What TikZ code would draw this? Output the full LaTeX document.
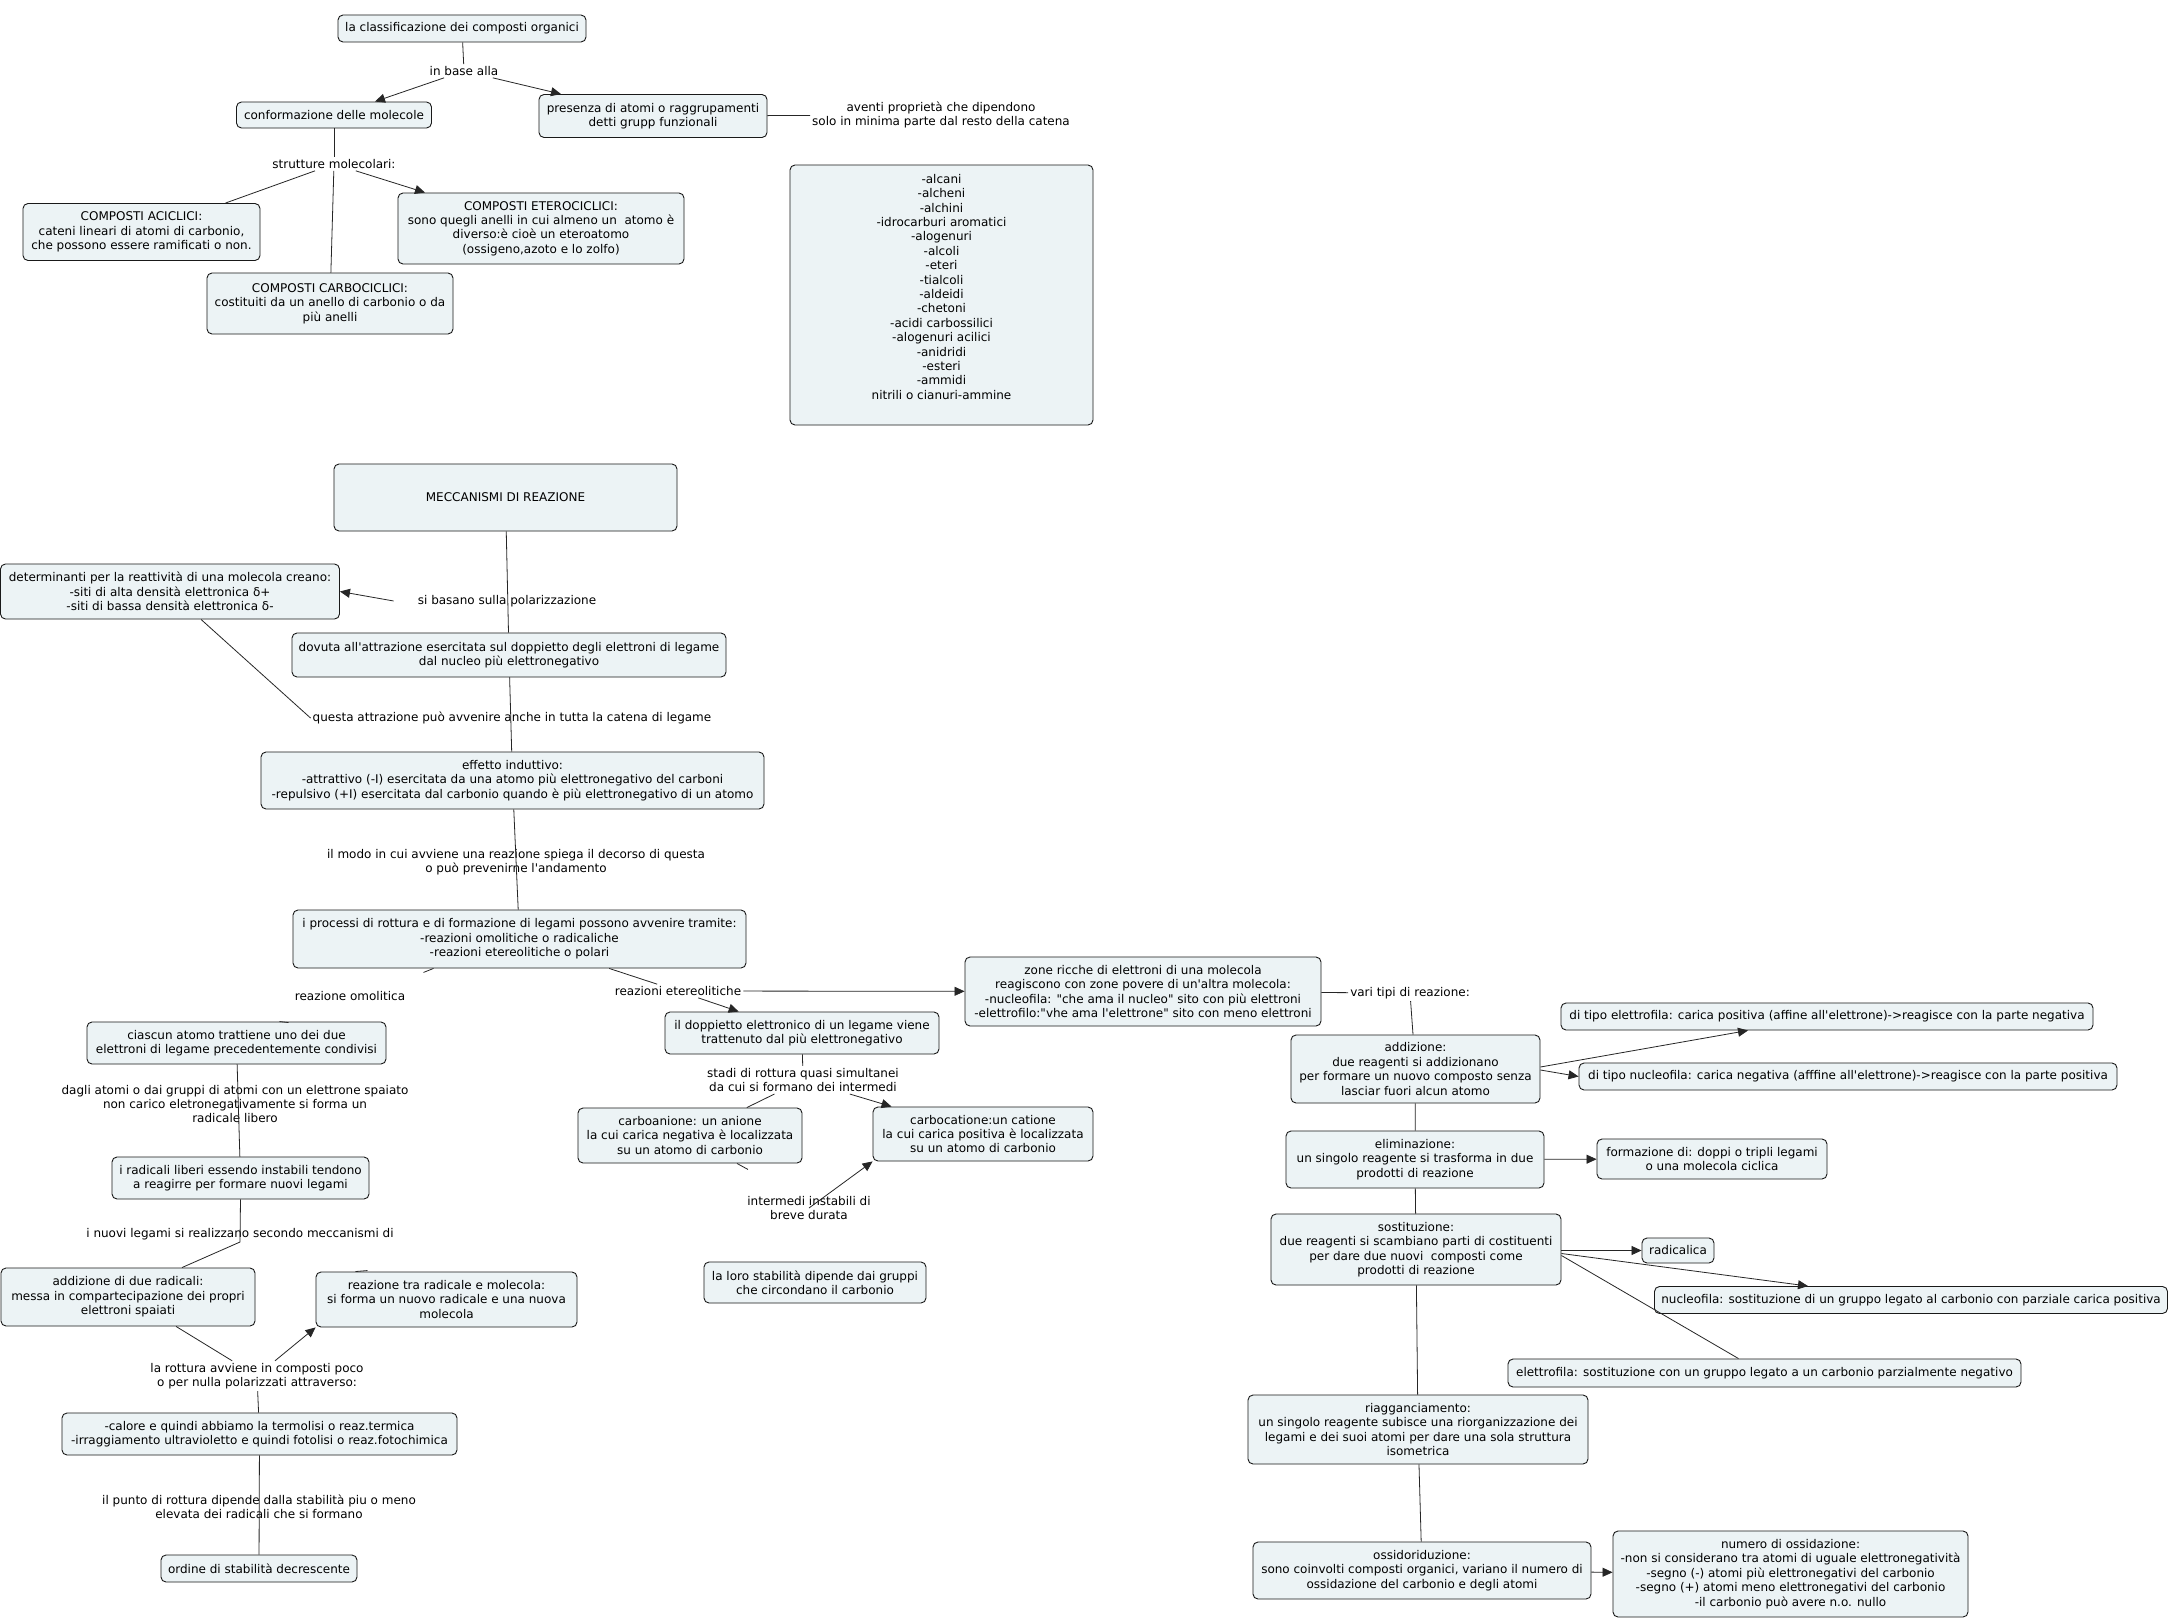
\documentclass[tikz,border=0pt]{standalone}
\usepackage{fontspec}
\setmainfont{DejaVu Sans}[Ligatures=TeXOff]
\usetikzlibrary{arrows.meta}
\definecolor{cfill}{HTML}{ECF3F5}
\newcommand{\cmtxt}{\fontsize{12}{14.4}\selectfont}
\tikzset{
  >={Triangle[length=10pt,width=9pt]},
  cbox/.style={rounded corners=5pt, draw=black!90, fill=cfill, line width=0.9pt,
               align=center, inner sep=2pt, font=\cmtxt},
  clink/.style={align=center, inner sep=2pt, font=\cmtxt},
  cline/.style={black!85, line width=0.8pt},
  carrow/.style={cline, ->},
}

\begin{document}
\begin{tikzpicture}[x=1pt, y=-1pt]

  \fill[white] (0,0) rectangle (2172,1619);
  \useasboundingbox (0,0) rectangle (2172,1619);

  % classificazione
  \node[cbox, minimum width=248pt, minimum height=27pt] (n1) at (462,28.5) {la classificazione dei composti organici};
  \node[clink] (lb1) at (464,71) {in base alla};
  \node[cbox, minimum width=195pt, minimum height=26pt] (n2) at (334,115) {conformazione delle molecole};
  \node[cbox, minimum width=228pt, minimum height=43pt] (n3) at (653,116) {presenza di atomi o raggrupamenti\\detti grupp funzionali};
  \node[clink] (lb2) at (941,115) {aventi proprietà che dipendono\\solo in minima parte dal resto della catena};
  \node[clink] (lb3) at (334,164) {strutture molecolari:};
  \node[cbox, minimum width=237pt, minimum height=57pt] (n4) at (141.5,232) {COMPOSTI ACICLICI:\\cateni lineari di atomi di carbonio,\\che possono essere ramificati o non.};
  \node[cbox, minimum width=246pt, minimum height=61pt] (n5) at (330,303.5) {COMPOSTI CARBOCICLICI:\\costituiti da un anello di carbonio o da\\più anelli};
  \node[cbox, minimum width=286pt, minimum height=71pt] (n6) at (541,228.5) {COMPOSTI ETEROCICLICI:\\sono quegli anelli in cui almeno un\ \ atomo è\\diverso:è cioè un eteroatomo\\(ossigeno,azoto e lo zolfo)};
  \node[cbox, minimum width=303pt, minimum height=260pt] (n7) at (941.5,295) {-alcani\\-alcheni\\-alchini\\-idrocarburi aromatici\\-alogenuri\\-alcoli\\-eteri\\-tialcoli\\-aldeidi\\-chetoni\\-acidi carbossilici\\-alogenuri acilici\\-anidridi\\-esteri\\-ammidi\\nitrili o cianuri-ammine\\[2pt]\mbox{}};

  \draw[cline] (n1) -- (lb1);
  \draw[carrow] (lb1) -- ([xshift=41pt]n2.north);
  \draw[carrow] (lb1) -- ([xshift=-92pt]n3.north);
  \draw[cline] (n3) -- (lb2);
  \draw[cline] (n2) -- (lb3);
  \draw[cline] (lb3) -- ([xshift=84pt]n4.north);
  \draw[cline] (lb3) -- (n5);
  \draw[carrow] (lb3) -- ([xshift=-116pt]n6.north);

  % meccanismi
  \node[cbox, minimum width=343pt, minimum height=67pt] (n8) at (505.5,497.5) {MECCANISMI DI REAZIONE};
  \node[cbox, minimum width=339pt, minimum height=55pt] (n9) at (170,591.5) {determinanti per la reattività di una molecola creano:\\-siti di alta densità elettronica δ+\\-siti di bassa densità elettronica δ-};
  \node[clink] (lb4) at (507,601) {si basano sulla polarizzazione};
  \node[cbox, minimum width=434pt, minimum height=44pt] (n10) at (509,655) {dovuta all'attrazione esercitata sul doppietto degli elettroni di legame\\dal nucleo più elettronegativo};
  \node[clink] (lb5) at (512,718) {questa attrazione può avvenire anche in tutta la catena di legame};
  \node[cbox, minimum width=503pt, minimum height=57pt] (n11) at (512.5,780.5) {effetto induttivo:\\-attrattivo (-I) esercitata da una atomo più elettronegativo del carboni\\-repulsivo (+I) esercitata dal carbonio quando è più elettronegativo di un atomo};
  \node[clink] (lb6) at (516,862) {il modo in cui avviene una reazione spiega il decorso di questa\\o può prevenirne l'andamento};
  \node[cbox, minimum width=453pt, minimum height=58pt] (n12) at (519.5,939) {i processi di rottura e di formazione di legami possono avvenire tramite:\\-reazioni omolitiche o radicaliche\\-reazioni etereolitiche o polari};

  \draw[cline] (n8) -- (n10);
  \draw[carrow] ([xshift=-22pt]lb4.west) -- (n9.east);
  \draw[cline] (n9) -- (lb5.west);
  \draw[cline] (n10) -- (n11);
  \draw[cline] (n11) -- (n12);

  % reazione omolitica
  \node[clink] (lb7) at (350,996) {reazione omolitica};
  \node[cbox, minimum width=299pt, minimum height=42pt] (n13) at (236.5,1043) {ciascun atomo trattiene uno dei due\\elettroni di legame precedentemente condivisi};
  \node[clink] (lb8) at (235,1104) {dagli atomi o dai gruppi di atomi con un elettrone spaiato\\non carico eletronegativamente si forma un\\radicale libero};
  \node[cbox, minimum width=257pt, minimum height=42pt] (n14) at (240.5,1178) {i radicali liberi essendo instabili tendono\\a reagirre per formare nuovi legami};
  \node[clink] (lb9) at (240,1234) {i nuovi legami si realizzano secondo meccanismi di};
  \node[cbox, minimum width=254pt, minimum height=58pt] (n15) at (128,1297) {addizione di due radicali:\\messa in compartecipazione dei propri\\elettroni spaiati};
  \node[cbox, minimum width=261pt, minimum height=55pt] (n16) at (446.5,1299.5) {reazione tra radicale e molecola:\\si forma un nuovo radicale e una nuova\\molecola};
  \node[clink] (lb10) at (257,1376) {la rottura avviene in composti poco\\o per nulla polarizzati attraverso:};
  \node[cbox, minimum width=395pt, minimum height=42pt] (n17) at (259.5,1434) {-calore e quindi abbiamo la termolisi o reaz.termica\\-irraggiamento ultravioletto e quindi fotolisi o reaz.fotochimica};
  \node[clink] (lb11) at (259,1507) {il punto di rottura dipende dalla stabilità piu o meno\\elevata dei radicali che si formano};
  \node[cbox, minimum width=196pt, minimum height=27pt] (n18) at (259,1568.5) {ordine di stabilità decrescente};

  \draw[cline] ([xshift=-86pt]n12.south) -- ++(-10,4);
  \draw[cline] ([xshift=43pt]n13.north) -- ++(9,1);
  \draw[cline] (n13) -- (n14);
  \draw[cline] (n14.south) -- (lb9.south) -- ([xshift=54pt]n15.north);
  \draw[cline] ([xshift=-91pt]n16.north) -- ++(12,-1);
  \draw[cline] (n15) -- (lb10);
  \draw[carrow] ([xshift=18pt]lb10.north) -- (n16.south west);
  \draw[cline] (lb10) -- (n17);
  \draw[cline] (n17) -- (n18);

  % reazioni etereolitiche
  \node[clink] (lb12) at (678,991) {reazioni etereolitiche};
  \node[cbox, minimum width=274pt, minimum height=42pt] (n19) at (802,1033) {il doppietto elettronico di un legame viene\\trattenuto dal più elettronegativo};
  \node[cbox, minimum width=356pt, minimum height=69pt] (n20) at (1143,991.5) {zone ricche di elettroni di una molecola\\reagiscono con zone povere di un'altra molecola:\\-nucleofila: "che ama il nucleo" sito con più elettroni\\-elettrofilo:"vhe ama l'elettrone" sito con meno elettroni};
  \node[clink] (lb13) at (803,1080) {stadi di rottura quasi simultanei\\da cui si formano dei intermedi};
  \node[cbox, minimum width=224pt, minimum height=55pt] (n21) at (690,1135.5) {carboanione: un anione\\la cui carica negativa è localizzata\\su un atomo di carbonio};
  \node[cbox, minimum width=220pt, minimum height=54pt] (n22) at (983,1134) {carbocatione:un catione\\la cui carica positiva è localizzata\\su un atomo di carbonio};
  \node[clink] (lb14) at (809,1208) {intermedi instabili di\\breve durata};
  \node[cbox, minimum width=222pt, minimum height=41pt] (n23) at (815,1282.5) {la loro stabilità dipende dai gruppi\\che circondano il carbonio};

  \draw[cline] (n12) -- (lb12);
  \draw[carrow] (lb12) -- (n19);
  \draw[carrow] (lb12) -- (n20);
  \draw[cline] (n19) -- (lb13);
  \draw[cline] (lb13) -- (n21);
  \draw[carrow] (lb13) -- (n22);
  \draw[cline] ([xshift=47pt]n21.south) -- ++(11,6);
  \draw[carrow] (lb14.center) -- (n22.south west);

  % tipi di reazione
  \node[clink] (lb15) at (1410,993) {vari tipi di reazione:};
  \node[cbox, minimum width=249pt, minimum height=68pt] (n24) at (1415.5,1069) {addizione:\\due reagenti si addizionano\\per formare un nuovo composto senza\\lasciar fuori alcun atomo};
  \node[cbox, minimum width=532pt, minimum height=27pt] (n25) at (1827,1016.5) {di tipo elettrofila: carica positiva (affine all'elettrone)->reagisce con la parte negativa};
  \node[cbox, minimum width=538pt, minimum height=27pt] (n26) at (1848,1076.5) {di tipo nucleofila: carica negativa (afffine all'elettrone)->reagisce con la parte positiva};
  \node[cbox, minimum width=258pt, minimum height=57pt] (n27) at (1415,1159.5) {eliminazione:\\un singolo reagente si trasforma in due\\prodotti di reazione};
  \node[cbox, minimum width=230pt, minimum height=40pt] (n28) at (1712,1159) {formazione di: doppi o tripli legami\\o una molecola ciclica};
  \node[cbox, minimum width=290pt, minimum height=71pt] (n29) at (1416,1249.5) {sostituzione:\\due reagenti si scambiano parti di costituenti\\per dare due nuovi\ \ composti come\\prodotti di reazione};
  \node[cbox, minimum width=72pt, minimum height=25pt] (n30) at (1678,1250.5) {radicalica};
  \node[cbox, minimum width=513pt, minimum height=27pt] (n31) at (1911,1300) {nucleofila: sostituzione di un gruppo legato al carbonio con parziale carica positiva};
  \node[cbox, minimum width=513pt, minimum height=28pt] (n32) at (1764.5,1373) {elettrofila: sostituzione con un gruppo legato a un carbonio parzialmente negativo};
  \node[cbox, minimum width=340pt, minimum height=69pt] (n33) at (1418,1429.5) {riagganciamento:\\un singolo reagente subisce una riorganizzazione dei\\legami e dei suoi atomi per dare una sola struttura\\isometrica};
  \node[cbox, minimum width=338pt, minimum height=57pt] (n34) at (1422,1570.5) {ossidoriduzione:\\sono coinvolti composti organici, variano il numero di\\ossidazione del carbonio e degli atomi};
  \node[cbox, minimum width=355pt, minimum height=86pt] (n35) at (1790.5,1574) {numero di ossidazione:\\-non si considerano tra atomi di uguale elettronegatività\\-segno (-) atomi più elettronegativi del carbonio\\-segno (+) atomi meno elettronegativi del carbonio\\-il carbonio può avere n.o. nullo};

  \draw[cline] (n20) -- (lb15);
  \draw[cline] (lb15) -- (n24);
  \draw[carrow] ([yshift=2pt]n24.east) -- ([xshift=-79pt]n25.south);
  \draw[carrow] ([yshift=-1pt]n24.east) -- (n26.west);
  \draw[cline] (n24) -- (n27);
  \draw[carrow] (n27) -- (n28);
  \draw[cline] (n27) -- (n29);
  \draw[carrow] ([yshift=-1pt]n29.east) -- (n30.west);
  \draw[carrow] ([yshift=-4pt]n29.east) -- ([xshift=-103pt]n31.north);
  \draw[cline] ([yshift=-6pt]n29.east) -- ([xshift=-26pt]n32.north);
  \draw[cline] (n29) -- (n33);
  \draw[cline] (n33) -- (n34);
  \draw[carrow] (n34) -- (n35);

\end{tikzpicture}
\end{document}
